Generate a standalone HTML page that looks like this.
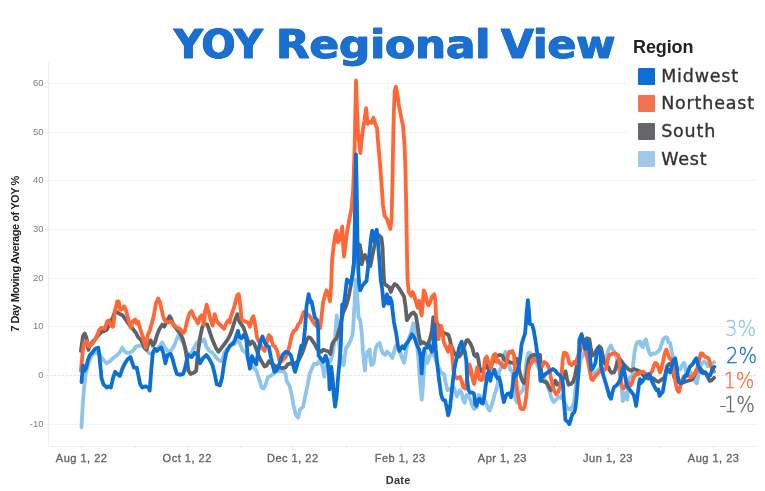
<!DOCTYPE html>
<html><head><meta charset="utf-8"><title>YOY Regional View</title>
<style>
html,body{margin:0;padding:0;background:#fff;}
body{width:765px;height:491px;position:relative;overflow:hidden;font-family:"Liberation Sans",sans-serif;}
.title{position:absolute;left:0;top:22px;width:765px;height:46px;font:bold 39px "DejaVu Sans","Liberation Sans",sans-serif;color:#1a6fd0;white-space:nowrap;line-height:46px;-webkit-text-stroke:0.8px #1a6fd0;text-shadow:0.7px 0 0 #1a6fd0,-0.7px 0 0 #1a6fd0;}
.title span{position:absolute;top:0;transform-origin:0 50%;display:block;}
.yt{position:absolute;left:0;width:43.6px;text-align:right;font-size:9.5px;line-height:12px;color:#7c7c7c;}
.xt{position:absolute;top:450.5px;width:80px;text-align:center;font-size:11px;line-height:14px;color:#666;letter-spacing:0.5px;-webkit-text-stroke:0.35px #666;}
.xtitle{position:absolute;left:358.2px;letter-spacing:0.3px;width:80px;text-align:center;top:474px;font-size:11px;font-weight:bold;color:#333;line-height:12px;}
.ytitle{position:absolute;left:15px;top:253.5px;width:0;height:0;}
.ytitle span{position:absolute;left:-100px;top:-7px;width:200px;text-align:center;transform:rotate(-90deg);font-size:11px;font-weight:bold;color:#222;line-height:14px;letter-spacing:-0.45px;white-space:nowrap;}
.lgt{position:absolute;left:633px;top:37px;font-size:18px;font-weight:bold;color:#222;line-height:20px;letter-spacing:-0.1px;}
.lg{position:absolute;left:638px;height:17px;}
.lg i{position:absolute;left:0;top:0;width:16.5px;height:16.5px;display:block;border-radius:1px;}
.lg span{position:absolute;left:23.2px;top:-3px;font:17.5px "DejaVu Sans","Liberation Sans",sans-serif;color:#333;line-height:22px;white-space:nowrap;letter-spacing:0.8px;-webkit-text-stroke:0.35px #333;}
.end{position:absolute;left:690px;text-align:right;font:200 21.3px "DejaVu Sans","Liberation Sans",sans-serif;line-height:24px;white-space:nowrap;transform-origin:100% 50%;transform:scaleX(0.92);-webkit-text-stroke:0.3px currentColor;}
</style></head><body>
<svg width="765" height="491" viewBox="0 0 765 491" style="position:absolute;left:0;top:0">
<line x1="45" x2="757" y1="424.5" y2="424.5" stroke="#f4f4f4" stroke-width="1"/>
<line x1="45" x2="757" y1="375.5" y2="375.5" stroke="#e6e6e6" stroke-width="1" stroke-dasharray="3 1"/>
<line x1="45" x2="757" y1="326.5" y2="326.5" stroke="#f4f4f4" stroke-width="1"/>
<line x1="45" x2="757" y1="278.5" y2="278.5" stroke="#f4f4f4" stroke-width="1"/>
<line x1="45" x2="757" y1="229.5" y2="229.5" stroke="#f4f4f4" stroke-width="1"/>
<line x1="45" x2="757" y1="180.5" y2="180.5" stroke="#f4f4f4" stroke-width="1"/>
<line x1="45" x2="757" y1="132.5" y2="132.5" stroke="#f4f4f4" stroke-width="1"/>
<line x1="45" x2="757" y1="83.5" y2="83.5" stroke="#f4f4f4" stroke-width="1"/>
<line x1="48.5" x2="48.5" y1="62" y2="446" stroke="#efefef" stroke-width="1"/>
<line x1="48" x2="757" y1="446.5" y2="446.5" stroke="#efefef" stroke-width="1"/>
<rect x="628" y="28" width="137" height="150" fill="#ffffff"/>
<line x1="81.6" x2="81.6" y1="446" y2="450" stroke="#e6e6e6" stroke-width="1"/>
<line x1="135.3" x2="135.3" y1="446" y2="448" stroke="#e6e6e6" stroke-width="1"/>
<line x1="187.2" x2="187.2" y1="446" y2="450" stroke="#e6e6e6" stroke-width="1"/>
<line x1="240.9" x2="240.9" y1="446" y2="448" stroke="#e6e6e6" stroke-width="1"/>
<line x1="292.8" x2="292.8" y1="446" y2="450" stroke="#e6e6e6" stroke-width="1"/>
<line x1="346.5" x2="346.5" y1="446" y2="448" stroke="#e6e6e6" stroke-width="1"/>
<line x1="400.2" x2="400.2" y1="446" y2="450" stroke="#e6e6e6" stroke-width="1"/>
<line x1="448.7" x2="448.7" y1="446" y2="448" stroke="#e6e6e6" stroke-width="1"/>
<line x1="502.4" x2="502.4" y1="446" y2="450" stroke="#e6e6e6" stroke-width="1"/>
<line x1="554.3" x2="554.3" y1="446" y2="448" stroke="#e6e6e6" stroke-width="1"/>
<line x1="608.0" x2="608.0" y1="446" y2="450" stroke="#e6e6e6" stroke-width="1"/>
<line x1="659.9" x2="659.9" y1="446" y2="448" stroke="#e6e6e6" stroke-width="1"/>
<line x1="713.6" x2="713.6" y1="446" y2="450" stroke="#e6e6e6" stroke-width="1"/>
<path d="M81.5,427.3 L82.6,407.4 L84.0,388.5 L85.7,373.9 L87.8,365.5 L89.9,359.2 L92.0,355.0 L95.2,352.9 L98.3,352.9 L101.5,357.1 L104.6,361.3 L106.7,363.4 L109.8,361.3 L113.0,358.1 L116.1,356.0 L119.3,352.9 L122.4,347.6 L124.1,350.8 L126.6,352.9 L129.8,352.9 L132.9,350.8 L136.0,346.6 L139.2,345.6 L142.3,345.6 L145.5,348.7 L148.6,352.9 L150.7,353.9 L153.9,352.9 L158.1,348.7 L162.2,342.4 L164.3,346.6 L167.5,350.8 L170.6,350.8 L173.8,346.6 L175.9,341.4 L178.0,336.1 L180.1,338.2 L183.2,342.4 L186.3,350.8 L188.4,355.0 L191.6,352.9 L195.8,344.5 L198.9,340.3 L202.1,341.4 L204.2,339.3 L206.3,346.6 L209.4,350.8 L212.6,352.9 L215.7,357.1 L218.8,360.2 L222.0,361.3 L224.1,352.9 L227.2,348.7 L230.0,346.6 L232.0,343.0 L234.2,344.2 L237.0,341.0 L239.4,342.1 L242.6,350.5 L245.7,352.6 L248.9,362.0 L252.0,366.0 L256.2,370.4 L259.4,379.8 L261.4,387.2 L263.5,388.6 L265.6,385.1 L267.7,377.7 L270.9,375.6 L274.0,373.5 L277.2,371.4 L280.3,371.4 L283.5,371.4 L285.6,373.5 L286.6,380.9 L289.7,386.1 L291.8,395.6 L293.9,407.1 L296.0,415.5 L298.1,417.6 L300.2,409.2 L303.0,407.1 L305.1,396.6 L307.6,385.1 L309.7,373.5 L311.8,369.0 L313.9,364.0 L317.0,364.1 L319.1,361.0 L322.2,365.2 L324.3,376.7 L326.4,365.2 L328.5,363.1 L330.6,361.0 L332.7,353.0 L335.1,338.0 L336.7,315.5 L337.9,329.6 L339.2,345.0 L340.6,355.7 L342.2,363.5 L343.7,365.1 L344.8,355.7 L346.1,347.8 L348.4,344.7 L350.8,340.0 L352.4,335.0 L353.1,329.6 L354.7,301.4 L355.8,279.4 L356.7,288.8 L357.8,304.5 L358.6,317.1 L360.2,320.2 L361.8,332.7 L362.8,350.0 L364.1,363.5 L364.9,370.6 L365.7,358.8 L367.3,352.5 L369.6,349.4 L370.4,360.4 L371.5,365.1 L373.5,363.5 L374.6,355.7 L375.9,347.8 L377.5,344.7 L379.8,343.1 L381.4,349.4 L382.9,353.3 L385.3,354.9 L386.9,351.8 L389.2,353.3 L390.8,355.7 L392.4,358.0 L393.9,352.5 L395.5,346.3 L397.1,347.8 L399.4,351.0 L402.5,358.8 L404.1,362.7 L405.7,354.0 L407.3,345.0 L409.0,338.0 L411.0,333.0 L413.5,323.3 L415.0,330.0 L416.7,342.0 L418.2,355.7 L419.8,379.2 L421.7,399.6 L422.9,387.1 L424.2,363.5 L425.3,352.5 L426.9,363.5 L428.4,360.4 L430.0,355.7 L431.8,352.6 L434.1,355.7 L437.2,363.5 L440.4,371.4 L442.8,373.7 L444.3,374.5 L445.9,383.9 L447.4,390.2 L450.6,388.6 L453.7,387.1 L455.3,391.8 L456.9,396.5 L458.4,393.3 L460.0,390.2 L461.6,392.6 L463.1,399.6 L464.7,402.8 L466.3,394.9 L468.6,395.7 L470.2,399.6 L471.8,404.3 L474.1,409.0 L476.5,407.4 L478.8,394.9 L480.4,396.5 L482.0,401.2 L484.3,399.6 L485.9,402.8 L488.2,409.0 L489.8,410.6 L491.4,405.9 L492.9,401.2 L494.5,394.9 L496.1,390.2 L497.6,383.9 L499.2,371.4 L500.8,368.2 L502.4,363.5 L503.9,355.7 L505.5,351.8 L507.1,355.7 L508.6,363.5 L510.2,369.8 L512.5,371.4 L514.1,391.8 L515.7,399.6 L517.2,402.8 L518.8,394.9 L520.4,392.6 L522.8,390.2 L524.3,383.9 L525.4,371.4 L526.7,358.8 L528.2,353.3 L529.8,352.6 L531.4,357.2 L532.9,358.8 L536.5,363.5 L540.4,371.4 L545.1,380.8 L549.8,391.8 L551.4,398.0 L553.7,402.0 L556.1,399.6 L558.4,396.5 L560.8,398.0 L562.4,394.9 L564.7,402.8 L567.8,409.0 L570.2,409.8 L572.5,405.9 L574.1,402.0 L575.7,387.1 L578.0,371.4 L580.4,360.4 L582.0,357.2 L584.3,352.6 L586.7,349.4 L589.0,358.8 L591.4,371.4 L593.7,373.7 L596.9,371.4 L600.0,368.2 L602.4,365.1 L604.7,360.4 L607.1,354.1 L608.6,349.4 L611.0,345.5 L612.5,349.4 L614.1,351.0 L616.5,357.2 L618.5,365.1 L620.4,379.2 L622.0,391.8 L622.8,401.2 L624.3,398.0 L625.9,392.6 L627.5,399.6 L628.2,380.8 L629.8,377.6 L632.2,376.1 L633.2,363.5 L634.5,352.6 L636.1,344.7 L637.6,342.4 L640.0,341.6 L641.2,345.7 L642.8,347.2 L644.3,341.8 L645.9,339.4 L647.5,345.7 L649.0,352.0 L650.6,355.1 L652.9,353.5 L655.3,353.5 L657.6,352.0 L660.0,348.8 L661.6,344.1 L663.1,339.4 L665.5,337.1 L667.1,337.8 L668.6,342.6 L670.2,343.3 L671.8,352.0 L673.3,358.2 L674.9,362.9 L677.2,367.6 L680.4,369.2 L682.8,363.7 L684.3,362.9 L685.6,369.2 L686.7,373.9 L689.0,370.8 L692.2,373.9 L695.3,381.8 L696.9,383.3 L698.4,375.5 L700.0,367.6 L702.4,362.9 L704.7,361.4 L706.3,363.7 L707.8,366.1 L710.2,364.5 L712.5,362.9 L714.1,362.2" fill="none" stroke="#8fc4ec" stroke-width="3.8" stroke-linejoin="round" stroke-linecap="round"/>
<path d="M80.9,350.8 L83.0,336.1 L84.7,333.6 L86.3,337.2 L88.5,349.8 L89.9,344.9 L92.0,342.4 L95.2,339.3 L98.3,335.1 L101.5,331.9 L104.6,330.9 L106.7,329.8 L109.8,323.5 L113.0,317.2 L115.1,311.0 L118.2,313.1 L122.4,315.2 L125.6,319.4 L127.7,322.5 L130.8,326.7 L132.9,328.8 L136.0,333.0 L138.1,337.2 L141.3,340.3 L144.4,347.6 L146.5,349.8 L148.6,342.4 L150.7,340.3 L152.8,345.6 L154.9,342.4 L157.0,335.1 L159.1,329.8 L162.2,324.6 L164.3,326.7 L166.9,321.4 L169.6,316.2 L171.1,318.3 L172.7,323.5 L174.8,326.7 L178.0,330.9 L181.1,335.1 L183.2,340.3 L185.3,348.7 L187.0,359.2 L188.4,370.7 L190.6,373.9 L193.7,372.8 L196.2,370.7 L197.9,352.9 L200.0,338.2 L202.1,327.7 L204.2,323.5 L207.3,324.6 L209.4,330.9 L212.6,340.3 L215.7,347.6 L218.4,351.8 L220.9,348.7 L224.1,344.5 L227.2,340.3 L230.0,335.1 L230.0,335.1 L232.1,329.8 L235.2,319.4 L237.3,314.1 L239.4,321.4 L241.5,324.6 L243.6,327.7 L245.7,334.0 L247.8,340.3 L249.9,344.5 L252.0,341.4 L254.1,343.5 L256.2,348.7 L258.3,355.0 L261.4,361.3 L264.6,366.5 L266.7,365.5 L268.8,361.3 L271.9,363.4 L275.1,365.9 L279.3,367.6 L282.4,368.0 L285.6,367.6 L287.6,364.4 L290.8,363.4 L295.0,363.4 L298.1,361.3 L300.2,357.1 L302.3,352.9 L304.4,346.6 L306.5,340.3 L308.6,337.2 L310.7,338.2 L312.8,341.4 L314.9,344.5 L317.0,348.7 L318.5,350.0 L321.2,351.8 L323.3,349.7 L326.4,350.8 L328.8,351.8 L330.4,354.0 L332.0,345.0 L333.5,341.5 L336.7,338.0 L338.2,332.7 L340.0,327.0 L343.0,313.0 L346.1,306.0 L348.4,298.0 L350.8,285.7 L353.1,270.0 L356.0,243.0 L359.8,245.0 L361.0,251.8 L361.8,264.3 L363.3,258.0 L364.9,254.9 L366.5,258.0 L368.5,264.0 L370.4,266.0 L372.5,255.0 L375.1,242.4 L377.0,238.0 L379.0,235.3 L381.4,237.6 L382.5,247.0 L383.2,262.7 L383.8,277.0 L384.5,284.1 L386.9,285.7 L389.2,287.3 L390.8,292.0 L392.4,287.3 L394.7,284.1 L397.1,285.7 L399.4,288.8 L401.8,292.7 L404.1,296.7 L405.7,307.6 L406.9,320.2 L408.8,317.1 L411.2,313.9 L413.5,312.4 L415.9,315.5 L417.5,324.9 L419.0,335.9 L420.6,343.7 L422.9,342.2 L425.3,343.7 L427.6,345.3 L430.0,339.0 L431.8,331.4 L433.3,317.2 L435.7,320.4 L438.8,326.7 L443.5,332.9 L445.9,333.7 L448.2,334.5 L449.8,339.2 L451.1,345.5 L453.7,351.8 L456.9,356.5 L459.2,356.5 L461.6,353.3 L463.9,347.1 L466.3,340.8 L467.8,340.0 L470.2,343.1 L472.6,348.6 L474.1,354.9 L475.7,356.5 L477.2,354.1 L478.4,359.6 L479.3,365.9 L480.4,371.4 L482.8,369.8 L485.1,366.7 L486.7,365.1 L488.2,369.0 L490.6,366.7 L493.7,360.4 L497.6,355.7 L500.0,354.9 L502.4,355.7 L503.9,358.8 L505.5,360.4 L509.4,362.0 L514.1,363.5 L516.5,358.8 L518.0,363.5 L519.6,371.4 L521.2,377.6 L522.8,381.6 L524.3,383.1 L525.9,379.2 L527.5,366.7 L529.0,358.8 L531.4,355.7 L533.7,354.9 L536.1,355.7 L540.0,354.9 L542.0,380.8 L544.3,381.6 L546.7,382.4 L549.0,387.1 L550.6,390.2 L552.9,387.1 L555.3,380.8 L557.6,384.7 L561.6,382.4 L563.9,376.1 L565.5,371.4 L567.1,379.2 L568.6,384.7 L571.0,383.9 L573.3,381.6 L574.9,376.1 L577.2,363.5 L580.4,349.4 L582.8,341.9 L584.7,340.4 L587.1,338.2 L589.4,339.3 L590.7,347.5 L592.2,355.7 L594.5,354.1 L596.9,349.4 L599.2,346.3 L601.1,348.2 L602.7,355.7 L603.9,362.0 L606.3,365.1 L608.6,367.4 L610.2,371.4 L611.8,372.9 L614.1,372.2 L615.7,368.2 L617.2,362.0 L619.6,358.8 L622.0,362.0 L624.3,365.1 L626.7,367.4 L629.0,369.8 L631.4,370.6 L633.7,369.0 L636.1,369.8 L640.0,371.4 L640.4,371.6 L643.5,375.5 L645.9,377.1 L648.2,378.6 L651.4,377.8 L653.7,378.6 L656.1,381.0 L658.4,381.8 L660.8,380.2 L663.1,378.6 L664.7,377.1 L667.1,366.1 L669.4,363.7 L671.8,364.5 L674.1,377.1 L678.0,381.8 L682.8,382.6 L685.1,381.8 L687.5,381.0 L689.8,380.2 L692.2,379.4 L694.5,375.5 L696.5,370.0 L698.4,367.6 L700.8,369.2 L703.1,371.6 L705.5,373.1 L707.8,377.1 L709.7,381.0 L711.8,380.2 L714.1,377.8" fill="none" stroke="#5f6368" stroke-width="3.8" stroke-linejoin="round" stroke-linecap="round"/>
<path d="M80.9,370.7 L82.6,352.9 L84.3,342.4 L86.8,341.4 L88.9,346.6 L91.0,344.9 L94.1,341.4 L97.2,335.1 L99.3,329.8 L101.5,327.7 L104.6,328.8 L107.3,321.4 L108.8,320.4 L110.9,325.6 L113.0,326.7 L115.1,311.0 L117.2,301.5 L118.6,301.5 L120.3,309.9 L122.4,308.9 L124.1,306.4 L126.2,311.0 L128.3,319.4 L130.8,327.7 L132.9,321.4 L135.0,319.4 L136.7,323.5 L138.1,321.4 L140.2,328.8 L142.3,335.1 L144.4,342.4 L145.9,347.6 L147.6,335.1 L149.7,330.9 L151.8,323.5 L153.9,315.2 L155.9,303.6 L158.1,298.4 L159.7,301.5 L161.2,307.8 L163.3,317.2 L165.4,321.4 L168.5,322.5 L170.6,321.4 L173.8,324.6 L176.9,327.7 L180.1,328.8 L183.2,333.0 L184.9,330.9 L187.0,321.4 L189.5,313.1 L191.6,311.0 L193.7,316.2 L195.8,319.4 L197.9,323.5 L200.0,317.2 L202.1,315.2 L203.8,324.6 L205.2,311.0 L206.7,304.7 L208.4,311.0 L210.5,319.4 L212.6,325.6 L214.7,314.1 L216.8,321.4 L218.8,323.5 L220.9,325.6 L224.1,328.8 L226.2,323.5 L228.3,320.4 L230.0,322.5 L230.0,319.4 L234.2,306.8 L237.3,295.2 L238.8,294.2 L240.5,306.8 L241.5,319.4 L244.7,321.4 L247.8,322.5 L249.9,326.7 L252.0,318.3 L253.5,316.2 L255.2,325.6 L257.2,338.2 L259.4,342.4 L262.5,348.7 L264.6,350.8 L266.7,342.4 L268.8,335.1 L270.9,337.2 L273.0,345.6 L275.1,346.6 L277.2,350.8 L279.3,360.2 L281.4,361.3 L285.6,357.1 L287.6,352.9 L289.8,344.5 L291.8,335.1 L293.9,330.9 L296.0,329.8 L298.1,324.6 L300.2,322.5 L302.3,316.2 L303.8,312.0 L306.5,313.5 L309.7,316.2 L313.9,323.0 L316.0,325.6 L318.0,327.0 L320.2,328.0 L321.8,313.9 L323.3,301.4 L324.9,295.1 L326.5,290.4 L328.0,293.5 L330.0,301.4 L331.2,285.7 L332.0,262.0 L333.5,247.0 L335.1,236.0 L336.7,230.6 L337.9,242.4 L339.8,239.2 L341.4,231.4 L342.2,226.7 L342.9,240.8 L344.0,256.5 L345.3,245.5 L346.9,232.9 L349.2,220.4 L351.6,207.8 L353.1,190.0 L353.9,169.0 L354.7,145.7 L355.3,115.0 L356.0,80.5 L357.0,110.0 L358.1,133.4 L360.4,153.0 L362.3,133.4 L364.4,120.8 L366.1,108.2 L367.6,123.9 L369.7,121.8 L371.8,122.9 L373.4,117.7 L374.9,122.9 L377.0,128.0 L378.3,145.0 L380.0,163.0 L381.6,185.0 L383.0,205.0 L384.5,215.7 L386.9,218.8 L388.4,223.5 L390.3,229.0 L391.6,218.0 L392.4,185.0 L393.1,145.7 L393.8,112.4 L394.8,90.0 L395.9,86.8 L397.3,93.5 L399.0,106.1 L401.1,116.6 L403.2,127.1 L404.5,145.0 L405.3,165.0 L406.0,195.0 L406.5,225.0 L407.0,255.0 L407.6,280.0 L408.8,292.0 L411.2,295.9 L412.7,292.0 L414.3,295.9 L415.9,301.4 L417.5,307.6 L419.0,300.6 L420.6,310.8 L421.7,315.5 L422.9,301.4 L423.7,290.4 L425.3,293.5 L426.9,301.4 L428.4,305.3 L430.0,303.0 L431.5,298.0 L432.6,295.9 L434.2,294.3 L435.3,300.0 L436.0,315.7 L437.2,331.4 L438.5,339.2 L439.6,331.4 L441.2,325.9 L442.3,331.4 L443.5,340.8 L445.1,345.5 L446.7,348.6 L448.2,351.8 L449.8,345.5 L451.4,347.1 L452.2,354.9 L452.9,362.8 L453.7,372.2 L455.3,376.9 L456.9,378.4 L458.4,377.6 L460.0,376.9 L461.6,380.8 L463.1,387.1 L465.5,388.6 L467.5,376.1 L469.4,364.3 L471.0,369.8 L472.6,379.2 L474.1,383.9 L475.7,376.1 L477.2,367.4 L478.4,372.9 L479.6,379.2 L481.2,380.0 L482.8,379.2 L484.0,368.2 L485.1,358.8 L486.7,356.5 L488.2,362.0 L489.8,363.5 L490.9,369.0 L492.2,360.4 L493.7,354.9 L495.3,354.1 L496.9,362.0 L498.4,360.4 L500.0,363.5 L501.6,364.3 L503.1,366.7 L504.7,367.4 L506.3,363.5 L507.8,355.7 L509.4,351.8 L511.0,352.6 L512.5,351.0 L514.1,355.7 L514.9,368.2 L516.0,379.2 L517.2,391.8 L518.8,399.6 L520.4,408.2 L522.0,409.0 L523.5,409.0 L524.8,405.9 L526.4,394.9 L527.5,382.4 L528.2,371.4 L529.8,365.1 L531.4,363.5 L532.9,360.4 L534.5,358.8 L536.1,360.4 L542.0,366.7 L544.3,362.0 L546.7,363.5 L549.0,368.2 L550.6,376.1 L552.2,383.9 L553.7,390.2 L556.1,394.1 L558.4,391.8 L560.0,387.1 L561.6,374.5 L562.7,360.4 L563.9,352.6 L566.3,353.3 L567.8,357.2 L569.4,363.5 L571.8,365.1 L574.1,362.0 L575.7,363.5 L578.0,355.7 L580.4,346.3 L582.8,344.7 L584.3,347.8 L585.9,352.6 L588.2,362.0 L589.8,371.4 L591.4,379.2 L592.9,380.0 L595.3,376.1 L597.6,373.7 L600.0,371.4 L602.4,368.2 L604.7,369.8 L606.3,368.2 L607.5,360.4 L609.4,354.9 L611.8,354.1 L614.1,353.3 L616.5,354.1 L618.5,355.7 L619.6,363.5 L620.4,374.5 L621.6,385.5 L623.5,388.6 L625.9,385.5 L628.2,382.4 L630.6,385.5 L632.2,382.4 L633.7,377.6 L636.1,373.7 L638.4,374.5 L640.0,372.2 L640.4,372.4 L642.8,371.6 L645.1,373.1 L647.5,375.5 L649.8,374.7 L652.2,370.8 L653.7,366.1 L655.3,362.9 L656.9,363.7 L658.4,367.6 L660.0,372.4 L661.6,367.6 L663.1,361.4 L664.7,353.5 L666.3,349.6 L667.8,353.5 L669.4,358.2 L671.0,359.0 L672.5,364.5 L674.1,373.9 L675.7,383.3 L677.2,389.6 L678.8,392.0 L680.4,386.5 L682.0,380.2 L683.5,377.1 L685.9,376.3 L688.2,375.5 L690.6,377.1 L692.9,376.3 L694.5,373.9 L696.1,370.8 L697.6,367.6 L699.2,359.8 L700.8,353.5 L702.4,353.5 L703.9,355.9 L706.3,357.4 L708.6,358.2 L710.2,363.7 L711.8,368.4 L714.1,371.6" fill="none" stroke="#ff6736" stroke-width="3.8" stroke-linejoin="round" stroke-linecap="round"/>
<path d="M81.5,382.2 L83.0,365.5 L84.7,370.7 L86.3,367.6 L87.8,360.2 L89.9,355.0 L92.0,352.9 L95.2,348.7 L98.3,347.6 L99.3,355.0 L101.5,378.1 L103.5,384.3 L106.7,387.5 L108.8,386.4 L110.9,387.5 L113.0,378.1 L115.1,371.8 L117.2,373.9 L119.9,375.9 L122.4,368.6 L124.9,363.4 L127.7,359.2 L130.4,357.1 L131.8,361.3 L133.9,367.6 L136.7,367.6 L138.1,373.9 L140.2,384.3 L142.3,387.5 L145.5,386.4 L148.6,387.5 L149.7,390.6 L151.3,369.7 L152.8,352.9 L154.9,348.7 L157.0,350.8 L159.1,348.7 L161.2,347.6 L163.3,352.9 L165.4,363.4 L167.5,355.0 L170.6,353.9 L172.7,359.2 L174.8,367.6 L176.9,373.9 L180.1,374.9 L183.2,373.9 L184.9,368.6 L187.0,359.2 L188.4,355.0 L191.6,357.1 L194.7,352.9 L197.9,355.0 L200.0,363.4 L203.1,358.1 L206.3,355.0 L209.4,359.2 L212.6,365.5 L214.7,373.9 L216.8,384.3 L219.9,385.4 L222.0,378.1 L224.1,363.4 L226.2,352.9 L228.3,348.7 L230.0,345.6 L230.0,345.6 L233.1,343.5 L235.2,339.3 L238.0,330.9 L239.4,337.2 L241.5,338.2 L243.6,335.1 L246.3,339.3 L247.8,357.1 L249.9,368.6 L252.0,356.0 L254.1,361.3 L256.2,364.4 L258.3,350.8 L260.4,341.4 L262.5,336.5 L264.6,342.4 L266.7,345.6 L268.8,346.6 L270.9,357.1 L273.0,366.5 L274.4,371.8 L277.2,369.7 L280.3,361.3 L282.4,355.0 L285.6,351.8 L288.7,352.9 L291.2,356.0 L292.9,364.4 L295.0,371.8 L297.1,365.5 L298.8,357.1 L301.3,345.6 L303.4,344.5 L305.1,327.7 L306.5,306.8 L308.6,294.2 L310.7,302.6 L311.6,301.4 L313.1,309.2 L314.7,317.1 L317.1,320.2 L318.2,330.0 L318.6,355.7 L321.0,358.8 L323.3,362.0 L325.7,355.7 L327.3,360.4 L328.8,371.4 L329.6,389.4 L331.2,366.7 L332.7,379.2 L333.8,394.9 L335.1,406.7 L336.7,394.9 L338.2,376.1 L339.8,358.8 L340.8,345.0 L341.4,324.9 L342.2,304.5 L343.7,306.0 L345.3,293.5 L346.9,279.4 L349.2,281.8 L350.8,284.1 L352.4,276.3 L353.9,265.0 L354.6,235.0 L355.3,195.0 L356.0,154.3 L356.8,195.0 L357.5,240.0 L358.4,272.0 L359.2,284.0 L360.2,290.4 L362.5,285.7 L364.9,282.5 L366.5,281.0 L367.8,270.0 L369.3,255.0 L370.8,240.0 L372.2,230.6 L373.5,240.8 L375.1,234.5 L376.7,229.8 L377.8,239.2 L378.7,251.8 L379.8,265.9 L380.7,280.0 L382.2,288.8 L383.7,306.0 L385.3,301.4 L386.9,294.3 L388.4,303.7 L390.0,297.5 L391.6,301.4 L392.4,309.2 L393.9,321.8 L396.3,334.0 L397.8,345.0 L399.4,351.0 L401.0,347.8 L402.5,346.3 L404.1,348.6 L405.7,344.7 L408.0,341.6 L410.4,338.0 L412.0,334.3 L414.3,337.5 L416.7,344.5 L419.0,349.4 L420.6,355.7 L421.7,373.7 L422.9,355.7 L424.5,348.6 L426.9,347.8 L429.2,344.7 L430.2,347.8 L431.8,351.8 L433.3,346.3 L434.4,324.3 L435.7,349.4 L437.2,363.5 L438.8,377.6 L441.2,394.9 L442.8,399.6 L445.1,400.4 L446.7,407.4 L448.2,415.3 L449.8,409.0 L451.4,394.9 L452.9,380.8 L454.5,368.2 L456.9,357.2 L459.2,347.8 L461.6,341.6 L463.1,347.8 L464.7,351.0 L466.3,360.4 L467.1,379.2 L468.6,390.2 L470.2,392.6 L472.6,392.6 L474.1,394.1 L475.2,404.3 L476.5,405.9 L478.0,399.6 L479.6,398.8 L481.2,402.8 L482.8,403.5 L484.3,396.5 L485.9,383.9 L487.4,373.7 L489.0,371.4 L490.3,380.8 L491.4,375.3 L492.9,372.9 L494.5,369.8 L496.1,376.1 L497.6,378.4 L499.2,377.6 L500.8,383.9 L502.4,394.9 L503.9,402.0 L505.5,396.5 L507.1,394.1 L509.4,393.3 L511.0,397.2 L512.5,387.1 L514.1,373.7 L515.7,376.1 L517.2,371.4 L518.8,366.7 L520.4,355.7 L521.6,344.3 L523.5,338.0 L525.1,333.3 L525.9,323.9 L526.7,311.4 L527.9,300.1 L529.0,311.4 L529.8,323.9 L532.2,324.7 L533.7,330.2 L535.3,339.6 L536.9,350.6 L536.5,349.4 L538.0,357.2 L539.6,368.2 L540.4,380.8 L542.0,374.5 L543.5,376.1 L545.9,373.7 L548.2,372.2 L550.6,370.6 L552.9,369.0 L555.3,370.6 L557.6,373.7 L560.0,375.3 L562.4,380.0 L563.1,385.7 L563.9,401.4 L565.5,420.2 L567.8,421.8 L569.4,424.1 L571.0,418.6 L572.5,413.9 L574.1,412.4 L575.2,409.2 L576.5,398.2 L577.7,382.6 L578.8,370.0 L579.3,340.0 L581.6,334.1 L583.5,342.0 L585.5,349.0 L587.8,341.5 L589.5,353.0 L591.4,369.8 L592.9,368.2 L595.3,363.5 L597.0,353.0 L598.8,348.8 L600.8,354.0 L600.8,365.1 L603.1,374.5 L605.5,382.4 L607.8,390.2 L609.4,396.5 L611.0,398.8 L612.5,391.8 L614.1,387.1 L616.5,385.5 L618.8,382.4 L620.4,379.2 L622.0,371.4 L623.5,365.9 L625.1,376.1 L626.7,385.5 L629.0,388.6 L631.4,391.8 L633.7,394.9 L635.3,401.2 L636.1,405.9 L637.6,394.9 L639.2,382.4 L640.0,379.2 L640.4,383.3 L642.8,381.0 L645.1,377.1 L647.5,374.7 L649.0,373.9 L650.6,377.1 L652.2,381.8 L653.7,384.9 L655.3,388.0 L656.9,390.4 L658.4,389.6 L659.5,395.9 L661.1,393.5 L662.7,392.0 L664.2,383.3 L665.8,373.9 L667.1,368.4 L668.6,370.8 L670.2,372.4 L671.8,366.1 L673.3,360.6 L675.2,358.2 L676.5,366.1 L677.7,375.5 L678.8,381.8 L680.4,383.3 L682.0,382.6 L683.5,380.2 L685.1,375.5 L686.7,375.5 L688.2,370.8 L689.8,366.9 L691.4,365.3 L692.9,363.7 L694.5,360.6 L696.4,358.2 L697.6,363.7 L699.2,367.6 L700.8,371.6 L703.1,373.1 L705.5,372.4 L707.8,375.5 L710.2,375.5 L711.8,370.8 L713.3,367.6 L714.4,366.9" fill="none" stroke="#0c6fd6" stroke-width="3.8" stroke-linejoin="round" stroke-linecap="round"/>
</svg>
<div class="title"><span id="w1" style="left:173.5px;transform:scaleX(1.022)">YOY</span> <span id="w2" style="left:276.1px;transform:scaleX(1.116)">Regional</span> <span id="w3" style="left:501.0px;transform:scaleX(1.086)">View</span></div>
<div class="yt" style="top:418.0px">-10</div>
<div class="yt" style="top:369.0px">0</div>
<div class="yt" style="top:320.0px">10</div>
<div class="yt" style="top:272.0px">20</div>
<div class="yt" style="top:223.0px">30</div>
<div class="yt" style="top:174.0px">40</div>
<div class="yt" style="top:126.0px">50</div>
<div class="yt" style="top:77.0px">60</div>
<div class="xt" style="left:41.6px">Aug 1, 22</div>
<div class="xt" style="left:147.2px">Oct 1, 22</div>
<div class="xt" style="left:252.8px">Dec 1, 22</div>
<div class="xt" style="left:360.2px">Feb 1, 23</div>
<div class="xt" style="left:462.4px">Apr 1, 23</div>
<div class="xt" style="left:568.0px">Jun 1, 23</div>
<div class="xt" style="left:673.6px">Aug 1, 23</div>
<div class="xtitle">Date</div>
<div class="ytitle"><span>7 Day Moving Average of YOY %</span></div>
<div class="lgt">Region</div>
<div class="lg" style="top:68px"><i style="background:#0c6fd6"></i><span>Midwest</span></div>
<div class="lg" style="top:95.3px"><i style="background:#f27350"></i><span>Northeast</span></div>
<div class="lg" style="top:123px"><i style="background:#65676b"></i><span>South</span></div>
<div class="lg" style="top:150.8px"><i style="background:#9fc8ea"></i><span>West</span></div>
<div class="end" style="top:316.8px;width:66.2px;color:#8fc4ec">3%</div>
<div class="end" style="top:343.5px;width:67.2px;color:#0c6fd6">2%</div>
<div class="end" style="top:368.5px;width:64.5px;color:#ff6736">1%</div>
<div class="end" style="top:392.5px;width:65px;color:#5f6368"><span style="margin-right:-2.5px">-</span>1%</div>
</body></html>
